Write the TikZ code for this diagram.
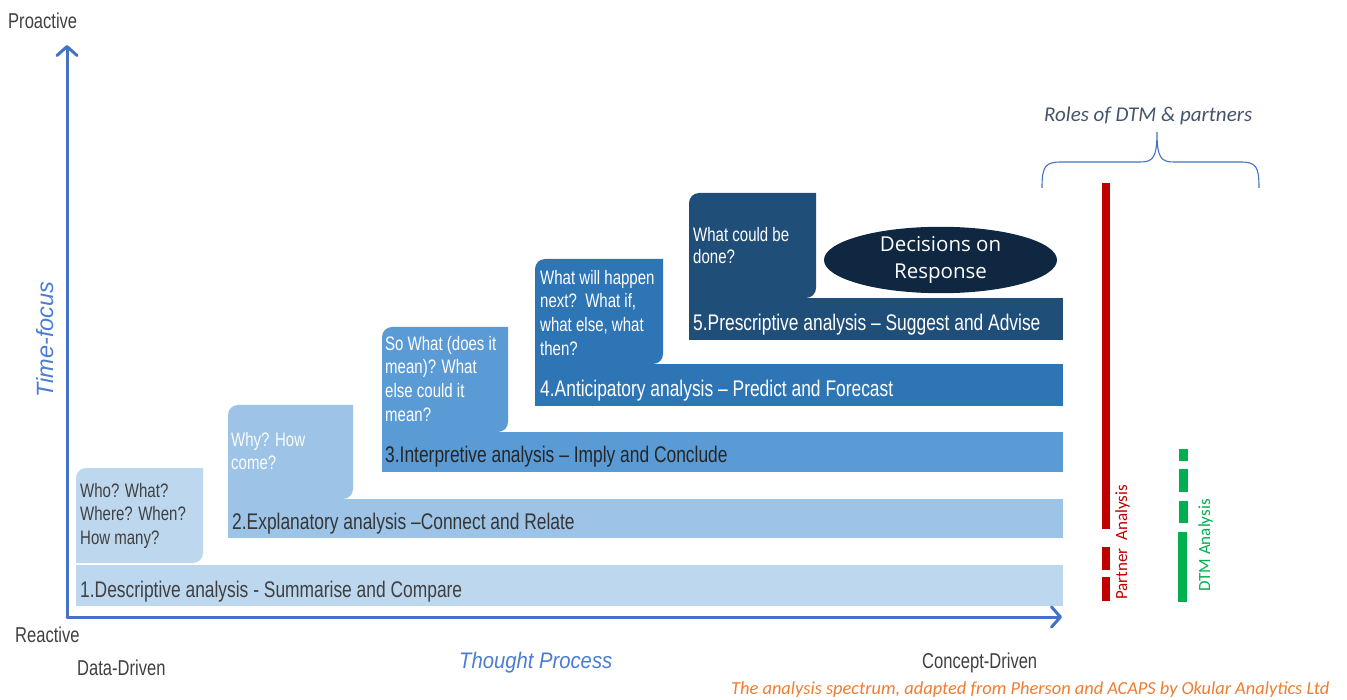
\documentclass[tikz,border=0pt]{standalone}
\usepackage{fontspec}
\usetikzlibrary{arrows.meta,shapes.geometric}
\newfontfamily\condfont[FakeStretch=0.77]{Liberation Sans}
\newfontfamily\semifont[FakeStretch=0.9]{Liberation Sans}
\newfontfamily\plainfont{Liberation Sans}
\newfontfamily\calfont{Carlito}
\newfontfamily\openfont{Open Sans}
\definecolor{axisblue}{HTML}{4472C4}
\definecolor{stepA}{HTML}{BDD7EE}
\definecolor{stepB}{HTML}{9DC3E6}
\definecolor{stepC}{HTML}{5B9BD5}
\definecolor{stepD}{HTML}{2E75B6}
\definecolor{stepE}{HTML}{1F4E79}
\definecolor{navy}{HTML}{0F2740}
\definecolor{labelgray}{HTML}{404040}
\definecolor{rolered}{HTML}{C00000}
\definecolor{rolegreen}{HTML}{00B050}
\definecolor{captionorange}{HTML}{ED7D31}
\definecolor{rolesgray}{HTML}{44546A}
\definecolor{italicblue}{HTML}{4A7CD4}
% one analysis level: colour, left x, tab right x, tab top, tab bottom, bar top, bar bottom
\newcommand\levelshape[7]{%
  \fill[#1] (#2,#5) -- (#2,#4+10) arc[start angle=180,end angle=270,radius=10]
    -- (#3,#4) -- (#3,#5-10) arc[start angle=0,end angle=90,radius=10] -- cycle;
  \fill[#1] (#2,#6) rectangle (1063,#7);
}
\tikzset{
  axis/.style={draw=axisblue, line width=3pt, line cap=round, line join=round,
    -{Straight Barb[length=9pt,width=20pt,line width=3pt,round]}},
  bartext/.style={anchor=base west, inner sep=0pt, font=\condfont\fontsize{22.6}{27}\selectfont},
  tabtext/.style={anchor=north west, inner sep=0pt, align=left,
    font=\condfont\fontsize{19.5}{23.6}\selectfont},
  axislabel/.style={anchor=base west, inner sep=0pt, text=labelgray,
    font=\condfont\fontsize{21.5}{25}\selectfont},
  rolelabel/.style={anchor=base west, inner sep=0pt, rotate=90,
    font=\calfont\fontsize{17}{20}\selectfont},
}
\begin{document}
\begin{tikzpicture}[x=1pt,y=-1pt]
\useasboundingbox (0,0) rectangle (1347,700);

% analysis levels, from descriptive up to prescriptive
\levelshape{stepA}{76}{203}{468}{563}{565}{606}
\levelshape{stepB}{228}{353}{405}{499}{499}{538}
\levelshape{stepC}{382}{508}{327}{432}{432}{472}
\levelshape{stepD}{535}{663}{259}{364}{364}{406}
\levelshape{stepE}{689}{816}{193}{298}{298}{340}

\node[tabtext, text=labelgray] (q1) at (80,483) {Who? What?\\Where? When?\\How many?};
\node[tabtext, text=white!95!stepB] (q2) at (231,432) {Why? How\\come?};
\node[tabtext, text=white] (q3) at (385,336) {So What (does it\\mean)? What\\else could it\\mean?};
\node[tabtext, text=white] (q4) at (540,270) {What will happen\\next?\ \ What if,\\what else, what\\then?};
\node[tabtext, text=white, font=\condfont\fontsize{19.5}{22}\selectfont] (q5) at (693,227) {What could be\\done?};

\node[bartext, text=labelgray] (l1) at (80,597) {1.Descriptive analysis - Summarise and Compare};
\node[bartext, text=labelgray!85!black] (l2) at (232,529) {2.Explanatory analysis –Connect and Relate};
\node[bartext, text=black!85] (l3) at (385,463) {3.Interpretive analysis – Imply and Conclude};
\node[bartext, text=white] (l4) at (540,397) {4.Anticipatory analysis – Predict and Forecast};
\node[bartext, text=white] (l5) at (693,331) {5.Prescriptive analysis – Suggest and Advise};

\node[ellipse, fill=navy, text=white, minimum width=233pt, minimum height=54pt, inner sep=0pt,
  align=center, font=\openfont\fontsize{20.5}{27}\selectfont] (dec) at (940.5,260) {Decisions on\\Response};

% axes
\coordinate (origin) at (67,617);
\coordinate (ytip) at (67,45);
\coordinate (xtip) at (1062,617);
\draw[axis] (origin) -- (ytip);
\draw[axis] (origin) -- (xtip);

\node[axislabel] (pro) at (8,29) {Proactive};
\node[axislabel] (rea) at (15,642) {Reactive};
\node[axislabel] (dd) at (77,675) {Data-Driven};
\node[axislabel] (cd) at (922,668) {Concept-Driven};
\node[anchor=base west, inner sep=0pt, text=italicblue,
  font=\semifont\itshape\fontsize{22.5}{26}\selectfont] (tp) at (459,668) {Thought Process};
\node[anchor=base west, inner sep=0pt, rotate=90, text=italicblue,
  font=\plainfont\itshape\fontsize{23.5}{26}\selectfont] (tf) at (53,398) {Time-focus};

% roles of DTM and partners
\node[anchor=base west, inner sep=0pt, text=rolesgray,
  font=\calfont\itshape\fontsize{21}{24}\selectfont] (roles) at (1044,122) {Roles of DTM \& partners};
\draw[axisblue, line width=1.1pt]
  (1042,188) .. controls (1042,166) and (1045,162) .. (1062,162) -- (1140,162)
  .. controls (1153,162) and (1157,158) .. (1157,132)
  .. controls (1157,158) and (1161,162) .. (1174,162) -- (1240,162)
  .. controls (1256,162) and (1259,166) .. (1259,188);

\fill[rolered] (1102,183) rectangle (1110,529);
\fill[rolered] (1102,547) rectangle (1110,570);
\fill[rolered] (1102,577) rectangle (1110,601);
\node[rolelabel, text=rolered] (pa) at (1127,600) {Partner\ \ Analysis};

\fill[rolegreen] (1179,449) rectangle (1188,461);
\fill[rolegreen] (1179,469) rectangle (1188,492);
\fill[rolegreen] (1179,501) rectangle (1188,523);
\fill[rolegreen] (1178,532) rectangle (1187,602);
\node[rolelabel, text=rolegreen] (da) at (1210,592) {DTM Analysis};

\node[anchor=base west, inner sep=0pt, text=captionorange,
  font=\calfont\itshape\fontsize{18.4}{21}\selectfont] (cap) at (731,694)
  {The analysis spectrum, adapted from Pherson and ACAPS by Okular Analytics Ltd};
\end{tikzpicture}
\end{document}
